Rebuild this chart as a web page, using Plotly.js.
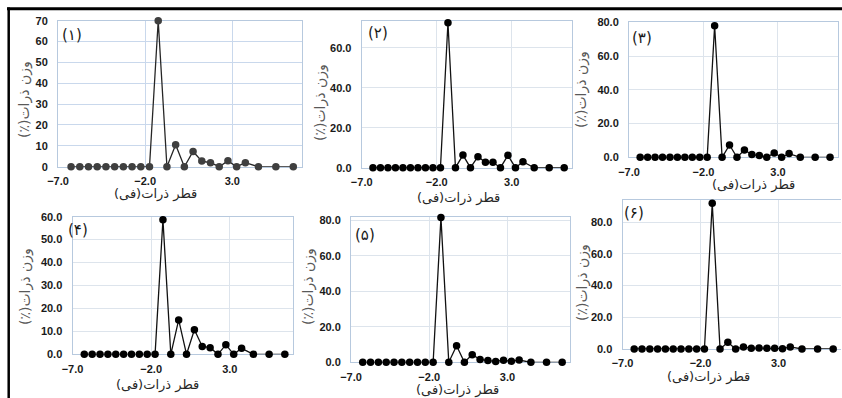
<!DOCTYPE html>
<html>
<head>
<meta charset="utf-8">
<script src="https://cdn.plot.ly/plotly-3.0.1.min.js"></script>
<style>html,body{margin:0;padding:0;background:#fff;}#chart{width:842px;height:398px;}</style>
</head>
<body>
<div id="chart"></div>
<script>
// phi class midpoints (x)
const phi = [-6.25,-5.75,-5.25,-4.75,-4.25,-3.75,-3.25,-2.75,-2.25,-1.75,-1.25,-0.75,-0.25,0.25,0.75,1.25,1.75,2.25,2.75,3.25,3.75,4.5,5.5,6.5];
// weight percent for each sample
const s1 = [0,0,0,0,0,0,0,0,0,0,70,0,10.5,0,7.3,2.7,1.9,0,2.8,0,1.9,0,0,0];
const s2 = [0,0,0,0,0,0,0,0,0,0,72.5,0,6.3,0,5.5,2.7,2.7,0,6.2,0,3.0,0,0,0];
const s3 = [0,0,0,0,0,0,0,0,0,0,78,0,7.3,0,4.3,1.6,1.0,0,2.6,0,2.2,0,0,0];
const s4 = [0,0,0,0,0,0,0,0,0,0,58.7,0,15.0,0,10.7,3.4,2.9,0,4.2,0,2.6,0,0,0];
const s5 = [0,0,0,0,0,0,0,0,0,0,81.5,0,9.3,0,4.3,1.6,1.0,0.5,1.2,0.6,1.3,0,0,0];
const s6 = [0,0,0,0,0,0,0,0,0,0,92,0,4.2,0,1.3,0.5,0.6,0.5,0.5,0.2,1.3,0,0,0];
const panelLabels = ["(۱)","(۲)","(۳)","(۴)","(۵)","(۶)"];
const xTickVals = [-7,-2,3];
const xTitle = "قطر ذرات(فی)";
const yTitle = "وزن ذرات(٪)";
const rtl = t => "\u202B" + t + "\u202C";

const W = 842, H = 398;
const px = v => v / W;
const py = v => 1 - v / H;

const series = [s1,s2,s3,s4,s5,s6];
// plot-area boxes in pixels [left, right, top, bottom]
const boxes = [
  [58, 302, 20.7, 166.7],
  [361.7, 571.7, 20.7, 167.7],
  [629, 837.5, 22.3, 157.3],
  [72.5, 292.7, 216.7, 354.3],
  [351, 570, 217.3, 362.3],
  [622.5, 841, 200, 349]
];
const yMax = [70, 73.5, 80, 60, 81.6, 94];
const yStep = [10, 20, 20, 10, 20, 20];
const yFmt = ["d", ".1f", ".1f", ".1f", ".1f", ".1f"];
const markerCol = ["#3f3f3f","#000","#000","#000","#000","#000"];
const lineCol = ["#262626","#111","#111","#111","#111","#111"];
const gridCol = ["#c9d8ec","#dde4ec","#dde4ec","#dde4ec","#dde4ec","#dde4ec"];
const borderCol = "#b7c9de";

const traces = [];
const layout = {
  width: W, height: H,
  margin: {l:0, r:0, t:0, b:0},
  paper_bgcolor: "#fff", plot_bgcolor: "#fff",
  showlegend: false,
  font: {family: "Liberation Sans, Arial, sans-serif", color: "#1a1a1a"},
  annotations: [], shapes: []
};

series.forEach((s, i) => {
  const n = i + 1;
  const xa = "x" + (n === 1 ? "" : n), ya = "y" + (n === 1 ? "" : n);
  traces.push({
    type: "scatter", mode: "lines+markers",
    x: phi, y: s, xaxis: xa, yaxis: ya,
    cliponaxis: false,
    line: {color: lineCol[i], width: 1.3},
    marker: {color: markerCol[i], size: 7.5, line: {width: 0}}
  });
  const b = boxes[i];
  layout["xaxis" + (n === 1 ? "" : n)] = {
    domain: [px(b[0]), px(b[1])], anchor: ya,
    range: [-7, 7], tickvals: xTickVals, tickformat: ".1f",
    showgrid: true, gridcolor: gridCol[i], gridwidth: 1,
    zeroline: false, showline: true, linecolor: borderCol, linewidth: 1,
    mirror: true, ticks: "", ticklabelstandoff: 4, layer: "below traces",
    tickfont: {size: 11, family: "Liberation Sans, Arial, sans-serif", weight: "bold", color: "#1a1a1a"}
  };
  layout["yaxis" + (n === 1 ? "" : n)] = {
    domain: [py(b[3]), py(b[2])], anchor: xa,
    range: [0, yMax[i]], dtick: yStep[i], tick0: 0, tickformat: yFmt[i],
    showgrid: true, gridcolor: gridCol[i], gridwidth: 1,
    zeroline: false, showline: true, linecolor: borderCol, linewidth: 1,
    mirror: n === 6 ? false : true, ticks: "", ticklabelstandoff: 7, layer: "below traces",
    tickfont: {size: 11, family: "Liberation Sans, Arial, sans-serif", weight: "bold", color: "#1a1a1a"}
  };
});

// panel labels
const labelPos = [[71.7,35],[378,33],[641.7,38],[78,230],[365,235],[634,212.7]];
labelPos.forEach((p, i) => layout.annotations.push({
  xref: "paper", yref: "paper", x: px(p[0]), y: py(p[1]), xanchor: "center", yanchor: "middle",
  text: panelLabels[i], showarrow: false,
  font: {family: "DejaVu Sans, sans-serif", size: 15, color: "#1a1a1a"}
}));
// x titles
const xtPos = [[155,194],[458,198],[753,185],[157,385],[457,390],[708,377]];
xtPos.forEach(p => layout.annotations.push({
  xref: "paper", yref: "paper", x: px(p[0]), y: py(p[1]), xanchor: "center", yanchor: "middle",
  text: rtl(xTitle), showarrow: false,
  font: {family: "DejaVu Sans, sans-serif", size: 13, color: "#262626"}
}));
// y titles
const ytPos = [[25,100],[320,103],[582,90],[25,287],[308,287],[582,283]];
ytPos.forEach(p => layout.annotations.push({
  xref: "paper", yref: "paper", x: px(p[0]), y: py(p[1]), xanchor: "center", yanchor: "middle",
  text: rtl(yTitle), textangle: -90, showarrow: false,
  font: {family: "DejaVu Sans, sans-serif", size: 14, color: "#595959"}
}));
// outer frame (top and left)
layout.shapes.push({type: "line", xref: "paper", yref: "paper", x0: px(7), x1: 1, y0: py(8.7), y1: py(8.7), line: {color: "#000", width: 3}});
layout.shapes.push({type: "line", xref: "paper", yref: "paper", x0: px(8.7), x1: px(8.7), y0: py(7.5), y1: 0, line: {color: "#000", width: 2.5}});

Plotly.newPlot("chart", traces, layout, {displayModeBar: false, staticPlot: true});
</script>
</body>
</html>
